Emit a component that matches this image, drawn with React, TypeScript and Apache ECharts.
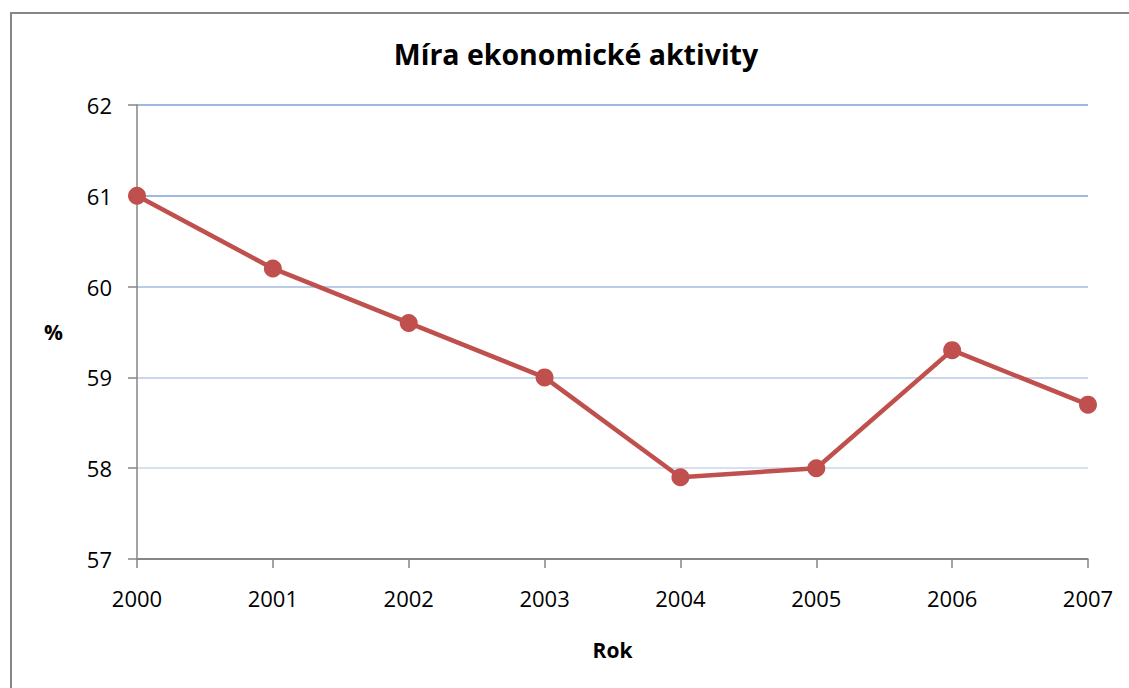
import React, { useEffect, useRef } from "react";
import * as echarts from "echarts";

const years = ["2000", "2001", "2002", "2003", "2004", "2005", "2006", "2007"];
const activity = [61.0, 60.2, 59.6, 59.0, 57.9, 58.0, 59.3, 58.7];
const yTicks = { min: 57, max: 62, interval: 1 };
const titleText = "Míra ekonomické aktivity";
const xName = "Rok";
const yName = "%";

const FONT = "'Open Sans', 'Noto Sans', sans-serif";

export default function App() {
  const ref = useRef<HTMLDivElement>(null);
  useEffect(() => {
    if (!ref.current) return;
    const chart = echarts.init(ref.current, null, { renderer: "svg" });
    chart.setOption({
      animation: false,
      backgroundColor: "#ffffff",
      title: {
        text: titleText,
        left: 571,
        textAlign: "center",
        top: 34,
        textStyle: { fontFamily: FONT, fontSize: 28.5, fontWeight: "bold", color: "#000" },
      },
      graphic: [
        {
          type: "rect",
          shape: { x: 11, y: 13, width: 1200, height: 800 },
          style: { fill: "none", stroke: "#868686", lineWidth: 2 },
          silent: true,
        },
      ],
      grid: { left: 137, right: 41, top: 105, bottom: 129 },
      xAxis: {
        type: "category",
        data: years,
        boundaryGap: false,
        name: xName,
        nameLocation: "middle",
        nameGap: 80,
        nameTextStyle: { fontFamily: FONT, fontSize: 21, fontWeight: "bold", color: "#000" },
        axisLine: { lineStyle: { color: "#868686", width: 1.5 } },
        axisTick: { show: true, length: 9, alignWithLabel: true, lineStyle: { color: "#868686", width: 1.5 } },
        axisLabel: { fontFamily: FONT, fontSize: 22, color: "#000", margin: 28 },
        splitLine: { show: false },
      },
      yAxis: {
        type: "value",
        min: yTicks.min,
        max: yTicks.max,
        interval: yTicks.interval,
        name: yName,
        nameLocation: "middle",
        nameRotate: 0,
        nameGap: 74,
        nameTextStyle: { fontFamily: FONT, fontSize: 21, fontWeight: "bold", color: "#000" },
        axisLine: { show: true, lineStyle: { color: "#868686", width: 1.5 } },
        axisTick: { show: true, length: 9, lineStyle: { color: "#868686", width: 1.5 } },
        axisLabel: { fontFamily: FONT, fontSize: 22, color: "#000", margin: 25 },
        splitLine: {
          show: true,
          lineStyle: {
            color: ["#868686", "#d6e0f0", "#c9d6ec", "#b9cbe8", "#9fb8e0", "#9fb8e0"],
            width: 2,
          },
        },
      },
      series: [
        {
          type: "line",
          data: activity,
          symbol: "circle",
          symbolSize: 18,
          lineStyle: { color: "#c0504d", width: 4.5 },
          itemStyle: { color: "#c0504d" },
        },
      ],
    });
    return () => chart.dispose();
  }, []);
  return (
    <div
      ref={ref}
      style={{ position: "fixed", left: 0, top: 0, width: 1129, height: 688 }}
    />
  );
}
